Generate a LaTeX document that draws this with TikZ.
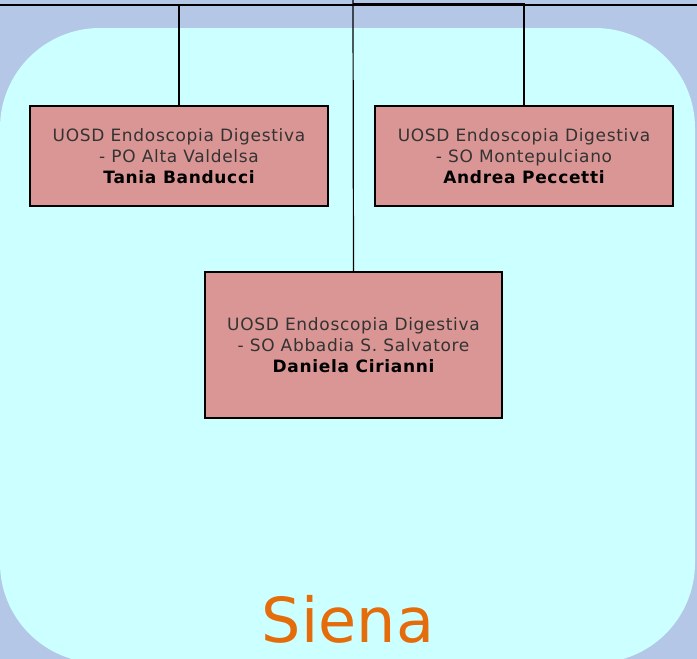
\documentclass[tikz,border=0pt]{standalone}
\usepackage{fontspec}
\setmainfont{DejaVu Sans}
\usetikzlibrary{positioning}
\definecolor{bgblue}{RGB}{180, 199, 231}
\definecolor{areacyan}{RGB}{204, 255, 255}
\definecolor{unitfill}{RGB}{218, 150, 148}
\definecolor{sienaorange}{RGB}{228, 108, 10}
\tikzstyle{unit} = [rectangle, minimum width=298pt, minimum height=100pt,
                    text centered, align=center, draw=black, fill=unitfill,
                    text=black!80, line width=1.2pt,
                    font=\fontsize{17}{21}\selectfont\addfontfeatures{LetterSpace=4}]
\tikzstyle{link} = [line width=1.2pt]

\begin{document}
\begin{tikzpicture}[x=1pt, y=-1pt]

        % background and area
        \useasboundingbox (0,0) rectangle (697,659);
        \fill [bgblue] (0,0) rectangle (697,659);
        \begin{scope}
        \clip (0,0) rectangle (697,659);
        \fill [areacyan, rounded corners=100pt] (0,28) rectangle (695,663);
        \end{scope}

        %Units
        \node (Valdelsa) [unit] at (179,156) {UOSD Endoscopia Digestiva\\- PO Alta Valdelsa\\\textbf{\color{black}Tania Banducci}};
        \node (Montepulciano) [unit] at (524,156) {UOSD Endoscopia Digestiva\\- SO Montepulciano\\\textbf{\color{black}Andrea Peccetti}};
        \node (Abbadia) [unit, minimum width=297pt, minimum height=146pt] at (353.5,345) {UOSD Endoscopia Digestiva\\- SO Abbadia S. Salvatore\\\textbf{\color{black}Daniela Cirianni}};

        %Lines from the top
        \coordinate (TopLeft) at (0,5);
        \coordinate (TopRight) at (697,5);
        \coordinate (Hub) at (353,0);
        \draw [link, line width=1.8pt] (TopLeft) -- (TopRight);
        \draw [link] (Hub) -- (Abbadia.north);
        \draw [link] (179,5) -- (Valdelsa.north);
        \draw [link] (353,3.5) -| (Montepulciano.north);

        %Area name
        \node (Siena) [text=sienaorange, font=\fontsize{62}{62}\selectfont] at (348,619) {Siena};

\end{tikzpicture}
\end{document}
